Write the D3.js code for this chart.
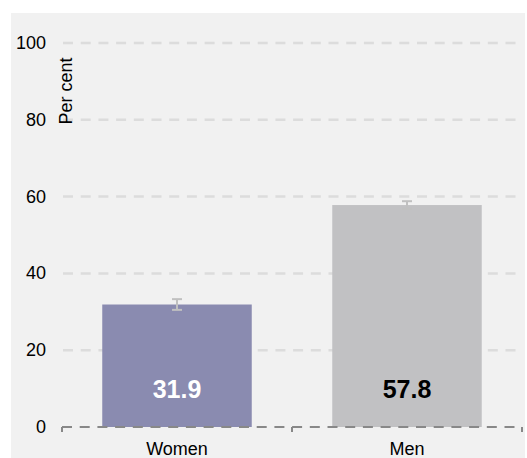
<!DOCTYPE html>
<html><head><meta charset="utf-8">
<script src="https://cdn.jsdelivr.net/npm/d3@7/dist/d3.min.js"></script>
<style>body{margin:0;background:#fff;}svg{display:block;font-family:"Liberation Sans",Arial,sans-serif;}</style>
</head><body>
<svg id="c" width="527" height="458"></svg>
<script>
const categories = ["Women", "Men"];
const values = [31.9, 57.8];
const errLow = [30.5, 56.8];
const errHigh = [33.3, 58.8];
const barColors = ["#8a8bb0", "#c1c1c3"];
const labelColors = ["#ffffff", "#000000"];
const yTicks = [0, 20, 40, 60, 80, 100];

const svg = d3.select("#c");
svg.append("rect").attr("x", 11).attr("y", 13).attr("width", 514).attr("height", 445).attr("fill", "#f1f1f1");

const x = d3.scaleBand().domain(categories).range([62, 522]).paddingInner(0.35).paddingOuter(0.175);
const y = d3.scaleLinear().domain([0, 100]).range([427, 43]);

// gridlines
svg.append("g").selectAll("line").data(yTicks.filter(d => d > 0)).join("line")
  .attr("x1", 63).attr("x2", 522).attr("y1", d => y(d)).attr("y2", d => y(d))
  .attr("stroke", "#dcdcdc").attr("stroke-width", 2.5).attr("stroke-dasharray", "10,7.7");

// y tick labels
svg.append("g").selectAll("text").data(yTicks).join("text")
  .attr("x", 46).attr("y", d => y(d) + 6).attr("text-anchor", "end")
  .attr("font-size", 18).attr("fill", "#000").text(d => d);

// y axis title
svg.append("text").attr("transform", "translate(72,91) rotate(-90)")
  .attr("text-anchor", "middle").attr("font-size", 18).attr("fill", "#000").text("Per cent");

// bars
svg.append("g").selectAll("rect").data(values).join("rect")
  .attr("x", (d, i) => x(categories[i])).attr("width", x.bandwidth())
  .attr("y", d => y(d)).attr("height", d => y(0) - y(d))
  .attr("fill", (d, i) => barColors[i]);

// error bars
const eb = svg.append("g").attr("stroke", "#c0c0c0").attr("stroke-width", 2);
categories.forEach((c, i) => {
  const cx = x(c) + x.bandwidth() / 2;
  eb.append("line").attr("x1", cx).attr("x2", cx).attr("y1", y(errLow[i])).attr("y2", y(errHigh[i]));
  eb.append("line").attr("x1", cx - 5).attr("x2", cx + 5).attr("y1", y(errLow[i])).attr("y2", y(errLow[i]));
  eb.append("line").attr("x1", cx - 5).attr("x2", cx + 5).attr("y1", y(errHigh[i])).attr("y2", y(errHigh[i]));
});

// value labels
svg.append("g").selectAll("text").data(values).join("text")
  .attr("x", (d, i) => x(categories[i]) + x.bandwidth() / 2).attr("y", y(0) - 29)
  .attr("text-anchor", "middle").attr("font-size", 25).attr("font-weight", "bold")
  .attr("fill", (d, i) => labelColors[i]).text(d => d.toFixed(1));

// x axis
svg.append("line").attr("x1", 62).attr("x2", 522).attr("y1", y(0)).attr("y2", y(0))
  .attr("stroke", "#888").attr("stroke-width", 2).attr("stroke-dasharray", "10,7.7");
const tickXs = [62, 522].concat(categories.slice(1).map(c => x(c) - x.step() * x.paddingInner() / 2));
svg.append("g").selectAll("line").data(tickXs).join("line")
  .attr("x1", d => d).attr("x2", d => d).attr("y1", y(0)).attr("y2", y(0) + 5)
  .attr("stroke", "#888").attr("stroke-width", 2);

svg.append("g").selectAll("text").data(categories).join("text")
  .attr("x", d => x(d) + x.bandwidth() / 2).attr("y", 455)
  .attr("text-anchor", "middle").attr("font-size", 18).attr("fill", "#000").text(d => d);
</script>
</body></html>
